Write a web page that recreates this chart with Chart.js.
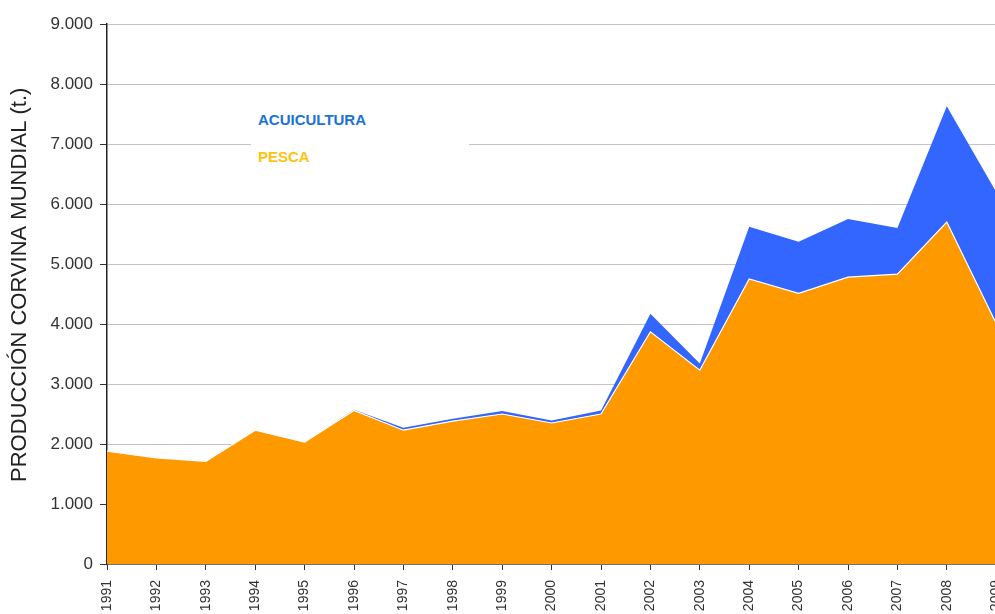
<!DOCTYPE html>
<html><head><meta charset="utf-8">
<script src="https://cdn.jsdelivr.net/npm/chart.js@4/dist/chart.umd.min.js"></script>
<style>
html,body{margin:0;padding:0;background:#fff;overflow:hidden;width:995px;height:614px;}
#wrap{position:relative;width:1023px;height:614px;}
#legend{position:absolute;left:251px;top:96px;width:218px;height:106px;background:#fff;font-family:Arial,"Liberation Sans",sans-serif;font-weight:bold;font-size:15px;}
#legend div{position:absolute;left:7px;}
</style></head>
<body>
<div id="wrap">
<canvas id="c" width="1023" height="614"></canvas>
<div id="legend"><div style="top:15px;color:#1a72d4">ACUICULTURA</div><div style="top:52px;color:#FFC20E">PESCA</div></div>
</div>
<script>
const years = ["1991","1992","1993","1994","1995","1996","1997","1998","1999","2000","2001","2002","2003","2004","2005","2006","2007","2008","2009"];
const pesca = [1880,1770,1710,2230,2030,2560,2230,2380,2500,2350,2500,3870,3230,4750,4510,4780,4830,5700,4010];
const acuicultura = [0,0,0,0,0,10,40,40,50,40,60,300,110,870,860,970,770,1930,2190];
const yTicks = [0,1000,2000,3000,4000,5000,6000,7000,8000,9000];

function fmt(v){ return v.toString().replace(/\B(?=(\d{3})+(?!\d))/g,'.'); }

new Chart(document.getElementById('c'),{
  type:'line',
  data:{labels:years,datasets:[
    {label:'PESCA',data:pesca,backgroundColor:'#FF9900',borderColor:'#ffffff',borderWidth:1.2,fill:'origin',pointRadius:0,tension:0},
    {label:'ACUICULTURA',data:acuicultura,backgroundColor:'#3366FF',borderColor:'#3366FF',borderWidth:0,fill:'-1',pointRadius:0,tension:0}
  ]},
  options:{
    responsive:false,animation:false,
    layout:{padding:{left:0,right:6,top:24,bottom:0}},
    plugins:{legend:{display:false},tooltip:{enabled:false}},
    scales:{
      x:{
        offset:false,
        grid:{drawOnChartArea:false,drawTicks:true,tickLength:6,tickColor:'#333'},
        border:{color:'#222',width:1.5},
        ticks:{autoSkip:false,maxRotation:90,minRotation:90,color:'#333',font:{family:'Arial',size:14},padding:10},
        afterFit:function(s){s.height=50;}
      },
      y:{
        stacked:true,min:0,max:9000,
        afterBuildTicks:function(s){s.ticks=yTicks.map(v=>({value:v}));},
        grid:{color:'#c4c4c4',lineWidth:1,drawTicks:true,tickLength:7,tickColor:'#333'},
        border:{color:'#222',width:1.5},
        ticks:{color:'#333',font:{family:'Arial',size:17},padding:7,callback:function(v){return fmt(v);}},
        title:{display:true,text:'   PRODUCCIÓN CORVINA MUNDIAL (t.)',color:'#222',font:{family:'Arial',size:22},padding:{top:7,bottom:0}},
        afterFit:function(s){s.width=107;}
      }
    }
  }
});
</script>
</body></html>
